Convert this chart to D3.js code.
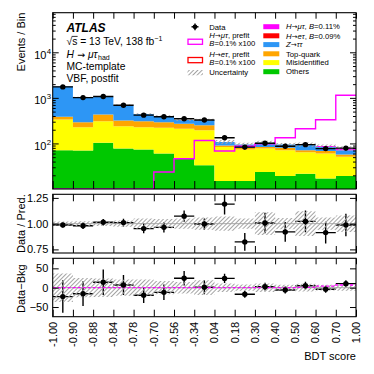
<!DOCTYPE html>
<html><head><meta charset="utf-8">
<script src="https://cdn.jsdelivr.net/npm/d3@7"></script>
<style>
body{margin:0;background:#fff}
svg{display:block}
text{font-family:"Liberation Sans",Arial,Helvetica,sans-serif;fill:#000}
</style></head><body>
<svg id="c" width="374" height="374"></svg>
<script>
// ---------------- data ----------------
const edgeLabels = ["-1.00","-0.90","-0.88","-0.84","-0.78","-0.70","-0.56","-0.34","0.04","0.18","0.30","0.40","0.50","0.60","0.70","1.00"];
const others  = [71, 70, 104, 77, 74, 60, 46, 33, 15, 15, 23.6, 19.3, 21.7, 16.9, 19.3];
const misid   = [264, 157, 203, 162, 153, 160, 164, 162, 68, 59, 53.4, 51.7, 42.3, 43.6, 32];
const topq    = [49, 65, 124, 79, 80, 72, 60, 56, 7, 5, 6, 9, 7, 7.5, 6.2];
const ztt     = [1411, 738, 624, 372, 133, 108, 55, 76, 18, 16, 21, 15, 23, 16, 13.5];
const hmtFit  = [0, 0, 0, 0, 0, 0, 0, 0, 0, 0, 0, 0, 1, 4, 7];
const hmtPre  = [0, 0, 0, 0, 0, 23.6, 46, 116, 68, 87, 98, 133, 210, 330, 1140];
const bkgUnc  = [37, 25, 24, 21, 21, 17, 15, 19, 11, 8, 11, 7.3, 10, 7.3, 8.2];
const dataVal = [1740, 1015, 1070, 690, 418, 386, 349, 326, 133, 83, 101, 87, 94, 77, 79];
const dataErr = [42, 32, 33, 26, 20, 20, 19, 18, 12, 9, 10, 9, 10, 9, 9];
const ratioVal = [0.987, 0.98, 1.013, 1.01, 0.952, 0.964, 1.073, 0.996, 1.19, 0.823, 1.006, 0.92, 1.022, 0.913, 0.987];
const ratioErr = [0.024, 0.031, 0.031, 0.038, 0.046, 0.05, 0.055, 0.055, 0.1, 0.085, 0.1, 0.095, 0.105, 0.105, 0.11];
const ratioBand = [0.02, 0.024, 0.023, 0.03, 0.05, 0.045, 0.05, 0.06, 0.07, 0.05, 0.11, 0.055, 0.12, 0.06, 0.08];
const diffVal = [-23, -15.5, 14, 7, -19.7, -12, 24.4, 1, 24, -17, 2.6, -6, 5.2, -4.1, 10.4];
const diffBand = [37, 25, 24, 21, 21, 17, 15, 19, 11, 8, 11, 7.3, 10, 7.3, 8.2];
const yTopTicks = [100, 1000, 10000];
const ratioTicks = [0.75, 1.0, 1.25];
const diffTicks = [-50, 0, 50];

// ---------------- setup ----------------
const svg = d3.select("#c");
const defs = svg.append("defs");
const nb = others.length;
const idx = d3.range(nb);
const X0 = 52.7, X1 = 356;
const x = d3.scaleLinear().domain([0, nb]).range([X0, X1]);

defs.append("pattern").attr("id","hatch").attr("patternUnits","userSpaceOnUse")
  .attr("width",3).attr("height",3).attr("patternTransform","rotate(45)")
  .append("rect").attr("width",1).attr("height",3).attr("fill","#a4a4a4");

const panels = {
  top: [12.7, 189],
  ratio: [194.3, 253],
  diff: [258.3, 316.7]
};
Object.entries(panels).forEach(([k,[a,b]])=>{
  defs.append("clipPath").attr("id","clip-"+k).append("rect")
    .attr("x",X0).attr("y",a).attr("width",X1-X0).attr("height",b-a);
});

const yT = d3.scaleLog().domain([10, 74000]).range([panels.top[1], panels.top[0]]).clamp(true);
const yR = d3.scaleLinear().domain([0.715, 1.285]).range([panels.ratio[1], panels.ratio[0]]);
const yD = d3.scaleLinear().domain([-75, 76]).range([panels.diff[1], panels.diff[0]]);
const yTc = v => yT(Math.max(v, 1));

const ext = arr => arr.concat([arr[arr.length-1]]);
const stepIdx = d3.range(nb+1);

// ---------------- top panel ----------------
const gTop = svg.append("g").attr("clip-path","url(#clip-top)");
const rows = idx.map(i => ({others:others[i], misid:misid[i], topq:topq[i], ztt:ztt[i], sig:hmtFit[i]}));
const keys = ["others","misid","topq","ztt","sig"];
const colors = {others:"#00c800", misid:"#ffff00", topq:"#ffa500", ztt:"#2d96f5", sig:"#ff00ff"};
const stacked = d3.stack().keys(keys)(rows);
stacked.forEach(layer=>{
  const pts = ext(layer.map(d=>[d[0],d[1]]));
  gTop.append("path")
    .attr("d", d3.area().curve(d3.curveStepAfter)
      .x((d,i)=>x(i)).y0(d=>yTc(d[0])).y1(d=>yTc(d[1]))(pts))
    .attr("fill", colors[layer.key]);
});
const totals = idx.map(i => others[i]+misid[i]+topq[i]+ztt[i]+hmtFit[i]);
gTop.append("path")
  .attr("d", d3.area().curve(d3.curveStepAfter).x((d,i)=>x(i))
    .y0(d=>yTc(d[0]-d[1])).y1(d=>yTc(d[0]+d[1]))(ext(idx.map(i=>[totals[i],bkgUnc[i]]))))
  .attr("fill","url(#hatch)");
gTop.append("path")
  .attr("d", d3.line().curve(d3.curveStepAfter).x((d,i)=>x(i)).y(d=>yTc(d))(ext(hmtPre)))
  .attr("fill","none").attr("stroke","#ff00ff").attr("stroke-width",1.4);
idx.forEach(i=>{
  gTop.append("line").attr("x1",x(i)).attr("x2",x(i+1)).attr("y1",yT(dataVal[i])).attr("y2",yT(dataVal[i]))
    .attr("stroke","#000").attr("stroke-width",1.4);
  gTop.append("line").attr("x1",x(i+0.5)).attr("x2",x(i+0.5)).attr("y1",yT(dataVal[i]-dataErr[i])).attr("y2",yT(dataVal[i]+dataErr[i]))
    .attr("stroke","#000").attr("stroke-width",1.4);
});
gTop.selectAll("circle.d").data(idx).join("circle").attr("cx",i=>x(i+0.5)).attr("cy",i=>yT(dataVal[i])).attr("r",2.7).attr("fill","#000");

// ---------------- ratio panel ----------------
const gR = svg.append("g").attr("clip-path","url(#clip-ratio)");
gR.append("line").attr("x1",X0).attr("x2",X1).attr("y1",yR(1)).attr("y2",yR(1)).attr("stroke","#aaa").attr("stroke-width",1);
idx.forEach(i=>{
  gR.append("line").attr("x1",x(i)).attr("x2",x(i+1)).attr("y1",yR(ratioVal[i])).attr("y2",yR(ratioVal[i])).attr("stroke","#000").attr("stroke-width",1.4);
  gR.append("line").attr("x1",x(i+0.5)).attr("x2",x(i+0.5)).attr("y1",yR(ratioVal[i]-ratioErr[i])).attr("y2",yR(ratioVal[i]+ratioErr[i])).attr("stroke","#000").attr("stroke-width",1.4);
});
gR.append("path")
  .attr("d", d3.area().curve(d3.curveStepAfter).x((d,i)=>x(i)).y0(d=>yR(1-d)).y1(d=>yR(1+d))(ext(ratioBand)))
  .attr("fill","url(#hatch)");
gR.selectAll("circle").data(idx).join("circle").attr("cx",i=>x(i+0.5)).attr("cy",i=>yR(ratioVal[i])).attr("r",2.7).attr("fill","#000");

// ---------------- diff panel ----------------
const gD = svg.append("g").attr("clip-path","url(#clip-diff)");
gD.append("line").attr("x1",X0).attr("x2",X1).attr("y1",yD(0)).attr("y2",yD(0)).attr("stroke","#aaa").attr("stroke-width",1);
idx.forEach(i=>{
  gD.append("line").attr("x1",x(i)).attr("x2",x(i+1)).attr("y1",yD(diffVal[i])).attr("y2",yD(diffVal[i])).attr("stroke","#000").attr("stroke-width",1.4);
  gD.append("line").attr("x1",x(i+0.5)).attr("x2",x(i+0.5)).attr("y1",yD(diffVal[i]-dataErr[i])).attr("y2",yD(diffVal[i]+dataErr[i])).attr("stroke","#000").attr("stroke-width",1.4);
});
gD.append("path")
  .attr("d", d3.area().curve(d3.curveStepAfter).x((d,i)=>x(i)).y0(d=>yD(-d)).y1(d=>yD(d))(ext(diffBand)))
  .attr("fill","url(#hatch)");
gD.append("path")
  .attr("d", d3.line().curve(d3.curveStepAfter).x((d,i)=>x(i)).y(d=>yD(d))(ext(hmtFit)))
  .attr("fill","none").attr("stroke","#ff00ff").attr("stroke-width",1.3).attr("stroke-dasharray","3,2");
gD.selectAll("circle").data(idx).join("circle").attr("cx",i=>x(i+0.5)).attr("cy",i=>yD(diffVal[i])).attr("r",2.7).attr("fill","#000");

// ---------------- frames & axes ----------------
function styleAxis(g){ g.select(".domain").remove(); g.selectAll(".tick line").attr("stroke","#000").attr("stroke-width",1); g.selectAll("text").attr("font-size",11).attr("fill","#000").attr("font-family","Liberation Sans, Arial, sans-serif"); }
function xTicks(y0, y1, lt, lb){
  svg.append("g").attr("transform",`translate(0,${y0})`).call(d3.axisTop(x).tickValues(stepIdx).tickSize(-lt).tickFormat("")).call(styleAxis);
  svg.append("g").attr("transform",`translate(0,${y1})`).call(d3.axisBottom(x).tickValues(stepIdx).tickSize(-lb).tickFormat("")).call(styleAxis);
}
xTicks(panels.top[0], panels.top[1], 6, 8);
xTicks(panels.ratio[0], panels.ratio[1], 7, 7);
xTicks(panels.diff[0], panels.diff[1], 6, 7);

const minorTop = [];
[10,100,1000,10000].forEach(b=>{ for(let k=2;k<=9;k++){ const v=b*k; if(v<74000) minorTop.push(v);} });
svg.append("g").attr("transform",`translate(${X0},0)`).call(d3.axisLeft(yT).tickValues(yTopTicks).tickSize(-6).tickFormat("")).call(styleAxis);
svg.append("g").attr("transform",`translate(${X0},0)`).call(d3.axisLeft(yT).tickValues(minorTop).tickSize(-3).tickFormat("")).call(styleAxis);
svg.append("g").attr("transform",`translate(${X1},0)`).call(d3.axisRight(yT).tickValues(yTopTicks).tickSize(-6).tickFormat("")).call(styleAxis);
svg.append("g").attr("transform",`translate(${X1},0)`).call(d3.axisRight(yT).tickValues(minorTop).tickSize(-3).tickFormat("")).call(styleAxis);
yTopTicks.forEach(v=>{
  svg.append("text").attr("x",46.5).attr("y",yT(v)+6.2).attr("text-anchor","end").attr("font-size",11).text("10");
  svg.append("text").attr("x",46.8).attr("y",yT(v)+1.2).attr("font-size",7.8).text(String(Math.round(Math.log10(v))));
});

svg.append("g").attr("transform",`translate(${X0},0)`).call(d3.axisLeft(yR).tickValues(ratioTicks).tickSize(-6).tickPadding(4.4).tickFormat(d3.format(".2f"))).call(styleAxis);
svg.append("g").attr("transform",`translate(${X1},0)`).call(d3.axisRight(yR).tickValues(ratioTicks).tickSize(-6).tickFormat("")).call(styleAxis);
svg.append("g").attr("transform",`translate(${X0},0)`).call(d3.axisLeft(yD).tickValues(diffTicks).tickSize(-6).tickPadding(4.4).tickFormat(d3.format("d"))).call(styleAxis);
svg.append("g").attr("transform",`translate(${X1},0)`).call(d3.axisRight(yD).tickValues(diffTicks).tickSize(-6).tickFormat("")).call(styleAxis);

Object.values(panels).forEach(([a,b])=>{
  svg.append("rect").attr("x",X0).attr("y",a).attr("width",X1-X0).attr("height",b-a).attr("fill","none").attr("stroke","#000").attr("stroke-width",1.1);
});

stepIdx.forEach(i=>{
  svg.append("text").attr("transform",`translate(${x(i)},321.8) rotate(-90)`).attr("text-anchor","end").attr("dy","0.35em").attr("font-size",11).text(edgeLabels[i]);
});
svg.append("text").attr("x",X1).attr("y",359.5).attr("text-anchor","end").attr("font-size",11).text("BDT score");

svg.append("text").attr("transform","translate(24.5,12.7) rotate(-90)").attr("text-anchor","end").attr("font-size",11).text("Events / Bin");
svg.append("text").attr("transform",`translate(24.5,${yR(1)}) rotate(-90)`).attr("text-anchor","middle").attr("font-size",11).text("Data / Pred.");
svg.append("text").attr("transform",`translate(24.5,${yD(0)+1}) rotate(-90)`).attr("text-anchor","middle").attr("font-size",11).text("Data\u2212Bkg");

// ---------------- label block ----------------
const LX = 66.5;
svg.append("text").attr("x",LX).attr("y",31.8).attr("font-size",12).attr("font-weight","bold").attr("font-style","italic").text("ATLAS");
{
  const t = svg.append("text").attr("x",LX).attr("y",45).attr("font-size",10.3);
  const a = t.append("tspan").text("\u221A");
  const s = t.append("tspan").text("s");
  t.append("tspan").text(" = 13 TeV, 138 fb");
  t.append("tspan").attr("font-size",7).attr("dy",-4).text("\u22121");
  const w1 = a.node().getComputedTextLength(), w2 = s.node().getComputedTextLength();
  svg.append("line").attr("x1",LX+w1-0.5).attr("x2",LX+w1+w2+0.3).attr("y1",36.4).attr("y2",36.4).attr("stroke","#000").attr("stroke-width",0.8);
}
{
  const t = svg.append("text").attr("x",LX).attr("y",58.3).attr("font-size",10.3);
  t.append("tspan").attr("font-style","italic").text("H");
  t.append("tspan").attr("font-family","DejaVu Sans").attr("font-size",9.5).text(" \u2192 ");
  t.append("tspan").attr("font-style","italic").text("\u03BC\u03C4");
  t.append("tspan").attr("font-size",7).attr("dy",2).attr("dx",0.6).text("had");
}
svg.append("text").attr("x",LX).attr("y",70.4).attr("font-size",10.3).text("MC-template");
svg.append("text").attr("x",LX).attr("y",82.2).attr("font-size",10.3).text("VBF, postfit");

// ---------------- legend ----------------
const LF = 7.7;
function richText(sel, parts){
  parts.forEach(p=>{
    const ts = sel.append("tspan").text(p[0]);
    if(p[1]) ts.attr("font-style","italic");
    if(p[0]==="\u2192") ts.attr("font-family","DejaVu Sans").attr("font-size",LF-0.6);
  });
}
svg.append("line").attr("x1",191.5).attr("x2",198.5).attr("y1",26.8).attr("y2",26.8).attr("stroke","#000").attr("stroke-width",1.4);
svg.append("line").attr("x1",195).attr("x2",195).attr("y1",23.5).attr("y2",30.2).attr("stroke","#000").attr("stroke-width",1.4);
svg.append("circle").attr("cx",195).attr("cy",26.8).attr("r",2.4).attr("fill","#000");
svg.append("text").attr("x",209.3).attr("y",29.5).attr("font-size",LF).text("Data");

const leftRows = [
  {c:"#ff00ff", y1:35, y2:43.5, l1:[["H",1],["\u2192",0],["\u03BC\u03C4",1],[", prefit",0]], box:[39.2,44.3]},
  {c:"#ff0000", y1:54, y2:62.6, l1:[["H",1],["\u2192",0],["e\u03C4",1],[", prefit",0]], box:[57.5,62.7]}
];
leftRows.forEach(r=>{
  svg.append("rect").attr("x",188).attr("y",r.box[0]).attr("width",14.5).attr("height",r.box[1]-r.box[0]).attr("fill","none").attr("stroke",r.c).attr("stroke-width",1.3);
  richText(svg.append("text").attr("x",209.3).attr("y",r.y1+2.6).attr("font-size",LF), r.l1);
  richText(svg.append("text").attr("x",209.3).attr("y",r.y2+2.6).attr("font-size",LF), [["B",1],["=0.1% x100",0]]);
});
svg.append("rect").attr("x",187.5).attr("y",70).attr("width",15.5).attr("height",5.3).attr("fill","url(#hatch)");
svg.append("text").attr("x",209.3).attr("y",75.3).attr("font-size",LF).text("Uncertainty");

const rightItems = [
  {c:"#ff00ff", y:26.7, t:[["H",1],["\u2192",0],["\u03BC\u03C4",1],[", ",0],["B",1],["=0.11%",0]]},
  {c:"#ff0000", y:35.8, t:[["H",1],["\u2192",0],["e\u03C4",1],[", ",0],["B",1],["=0.09%",0]]},
  {c:colors.ztt, y:44.6, t:[["Z",1],["\u2192",0],["\u03C4\u03C4",1]]},
  {c:colors.topq, y:53.8, t:[["Top-quark",0]]},
  {c:colors.misid, y:62.6, t:[["Misidentified",0]]},
  {c:colors.others, y:71.7, t:[["Others",0]]}
];
rightItems.forEach(r=>{
  svg.append("rect").attr("x",263.3).attr("y",r.y-2.5).attr("width",16).attr("height",5).attr("fill",r.c);
  richText(svg.append("text").attr("x",286).attr("y",r.y+2.7).attr("font-size",LF), r.t);
});
</script></body></html>
